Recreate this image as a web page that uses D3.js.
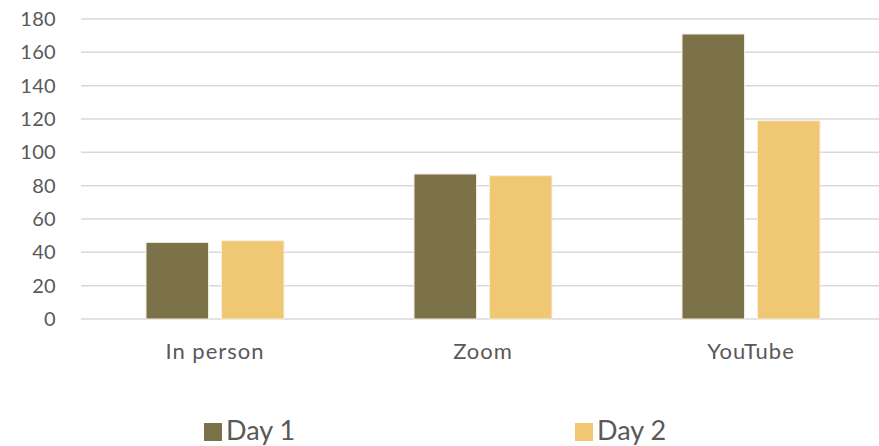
<!DOCTYPE html>
<html>
<head>
<meta charset="utf-8">
<script src="https://cdn.jsdelivr.net/npm/d3@7"></script>
<style>
body { margin: 0; background: #fff; }
svg { display: block; }
text { font-family: "Lato", "DejaVu Sans", sans-serif; fill: #595959; }
</style>
</head>
<body>
<svg id="chart"></svg>
<script>
// data
var categories = ["In person", "Zoom", "YouTube"];
var seriesNames = ["Day 1", "Day 2"];
var day1 = [46, 87, 171];
var day2 = [47, 86, 119];
var yTicks = [0, 20, 40, 60, 80, 100, 120, 140, 160, 180];

var colors = ["#7b7249", "#f0c873"];

var W = 879, H = 446;
var svg = d3.select("#chart").attr("width", W).attr("height", H);

// build rows from arrays
var rows = categories.map(function(c, i){
  return {cat: c, values: [day1[i], day2[i]]};
});

// scales
var x0 = d3.scaleBand()
  .domain(categories)
  .range([81, 885])
  .padding(0);

var x1 = d3.scaleBand()
  .domain(seriesNames)
  .range([65, 203])
  .paddingInner(0.17);

var y = d3.scaleLinear()
  .domain([0, 180])
  .range([319, 19]);

// gridlines
svg.append("g")
  .selectAll("line")
  .data(yTicks)
  .enter()
  .append("line")
  .attr("x1", 81)
  .attr("x2", W)
  .attr("y1", function(d){ return y(d); })
  .attr("y2", function(d){ return y(d); })
  .attr("stroke", "#d9d9d9")
  .attr("stroke-width", 1.5);

// y axis labels
var yAxis = svg.append("g")
  .attr("transform", "translate(62,0)")
  .call(d3.axisLeft(y).tickValues(yTicks).tickSize(0).tickPadding(6));
yAxis.select(".domain").remove();
yAxis.selectAll("text")
  .style("font-size", "20px")
  .style("letter-spacing", "0.3px")
  .attr("fill", "#636363");

// bars
var groups = svg.append("g")
  .selectAll("g")
  .data(rows)
  .enter()
  .append("g")
  .attr("transform", function(d){ return "translate(" + x0(d.cat) + ",0)"; });

groups.selectAll("rect")
  .data(function(d){ return d.values.map(function(v, i){ return {key: seriesNames[i], value: v, i: i}; }); })
  .enter()
  .append("rect")
  .attr("x", function(d){ return x1(d.key); })
  .attr("y", function(d){ return y(d.value); })
  .attr("width", x1.bandwidth())
  .attr("height", function(d){ return y(0) - y(d.value); })
  .attr("fill", function(d){ return colors[d.i]; })
  .attr("stroke", "#f5f0e6")
  .attr("stroke-width", 1);

// x axis labels
var xAxis = svg.append("g")
  .attr("transform", "translate(0,319)")
  .call(d3.axisBottom(x0).tickSize(0).tickPadding(24));
xAxis.select(".domain").remove();
xAxis.selectAll("text")
  .style("font-size", "22px")
  .style("letter-spacing", "1px")
  .attr("fill", "#595959");

// legend
var legendX = [204, 575];
var legend = svg.append("g")
  .selectAll("g")
  .data(seriesNames)
  .enter()
  .append("g")
  .attr("transform", function(d, i){ return "translate(" + legendX[i] + ",0)"; });

legend.append("rect")
  .attr("x", 0)
  .attr("y", 423)
  .attr("width", 18)
  .attr("height", 18)
  .attr("fill", function(d, i){ return colors[i]; });

legend.append("text")
  .attr("x", 22)
  .attr("y", 440)
  .style("font-size", "27px")
  .text(function(d){ return d; });
</script>
</body>
</html>
